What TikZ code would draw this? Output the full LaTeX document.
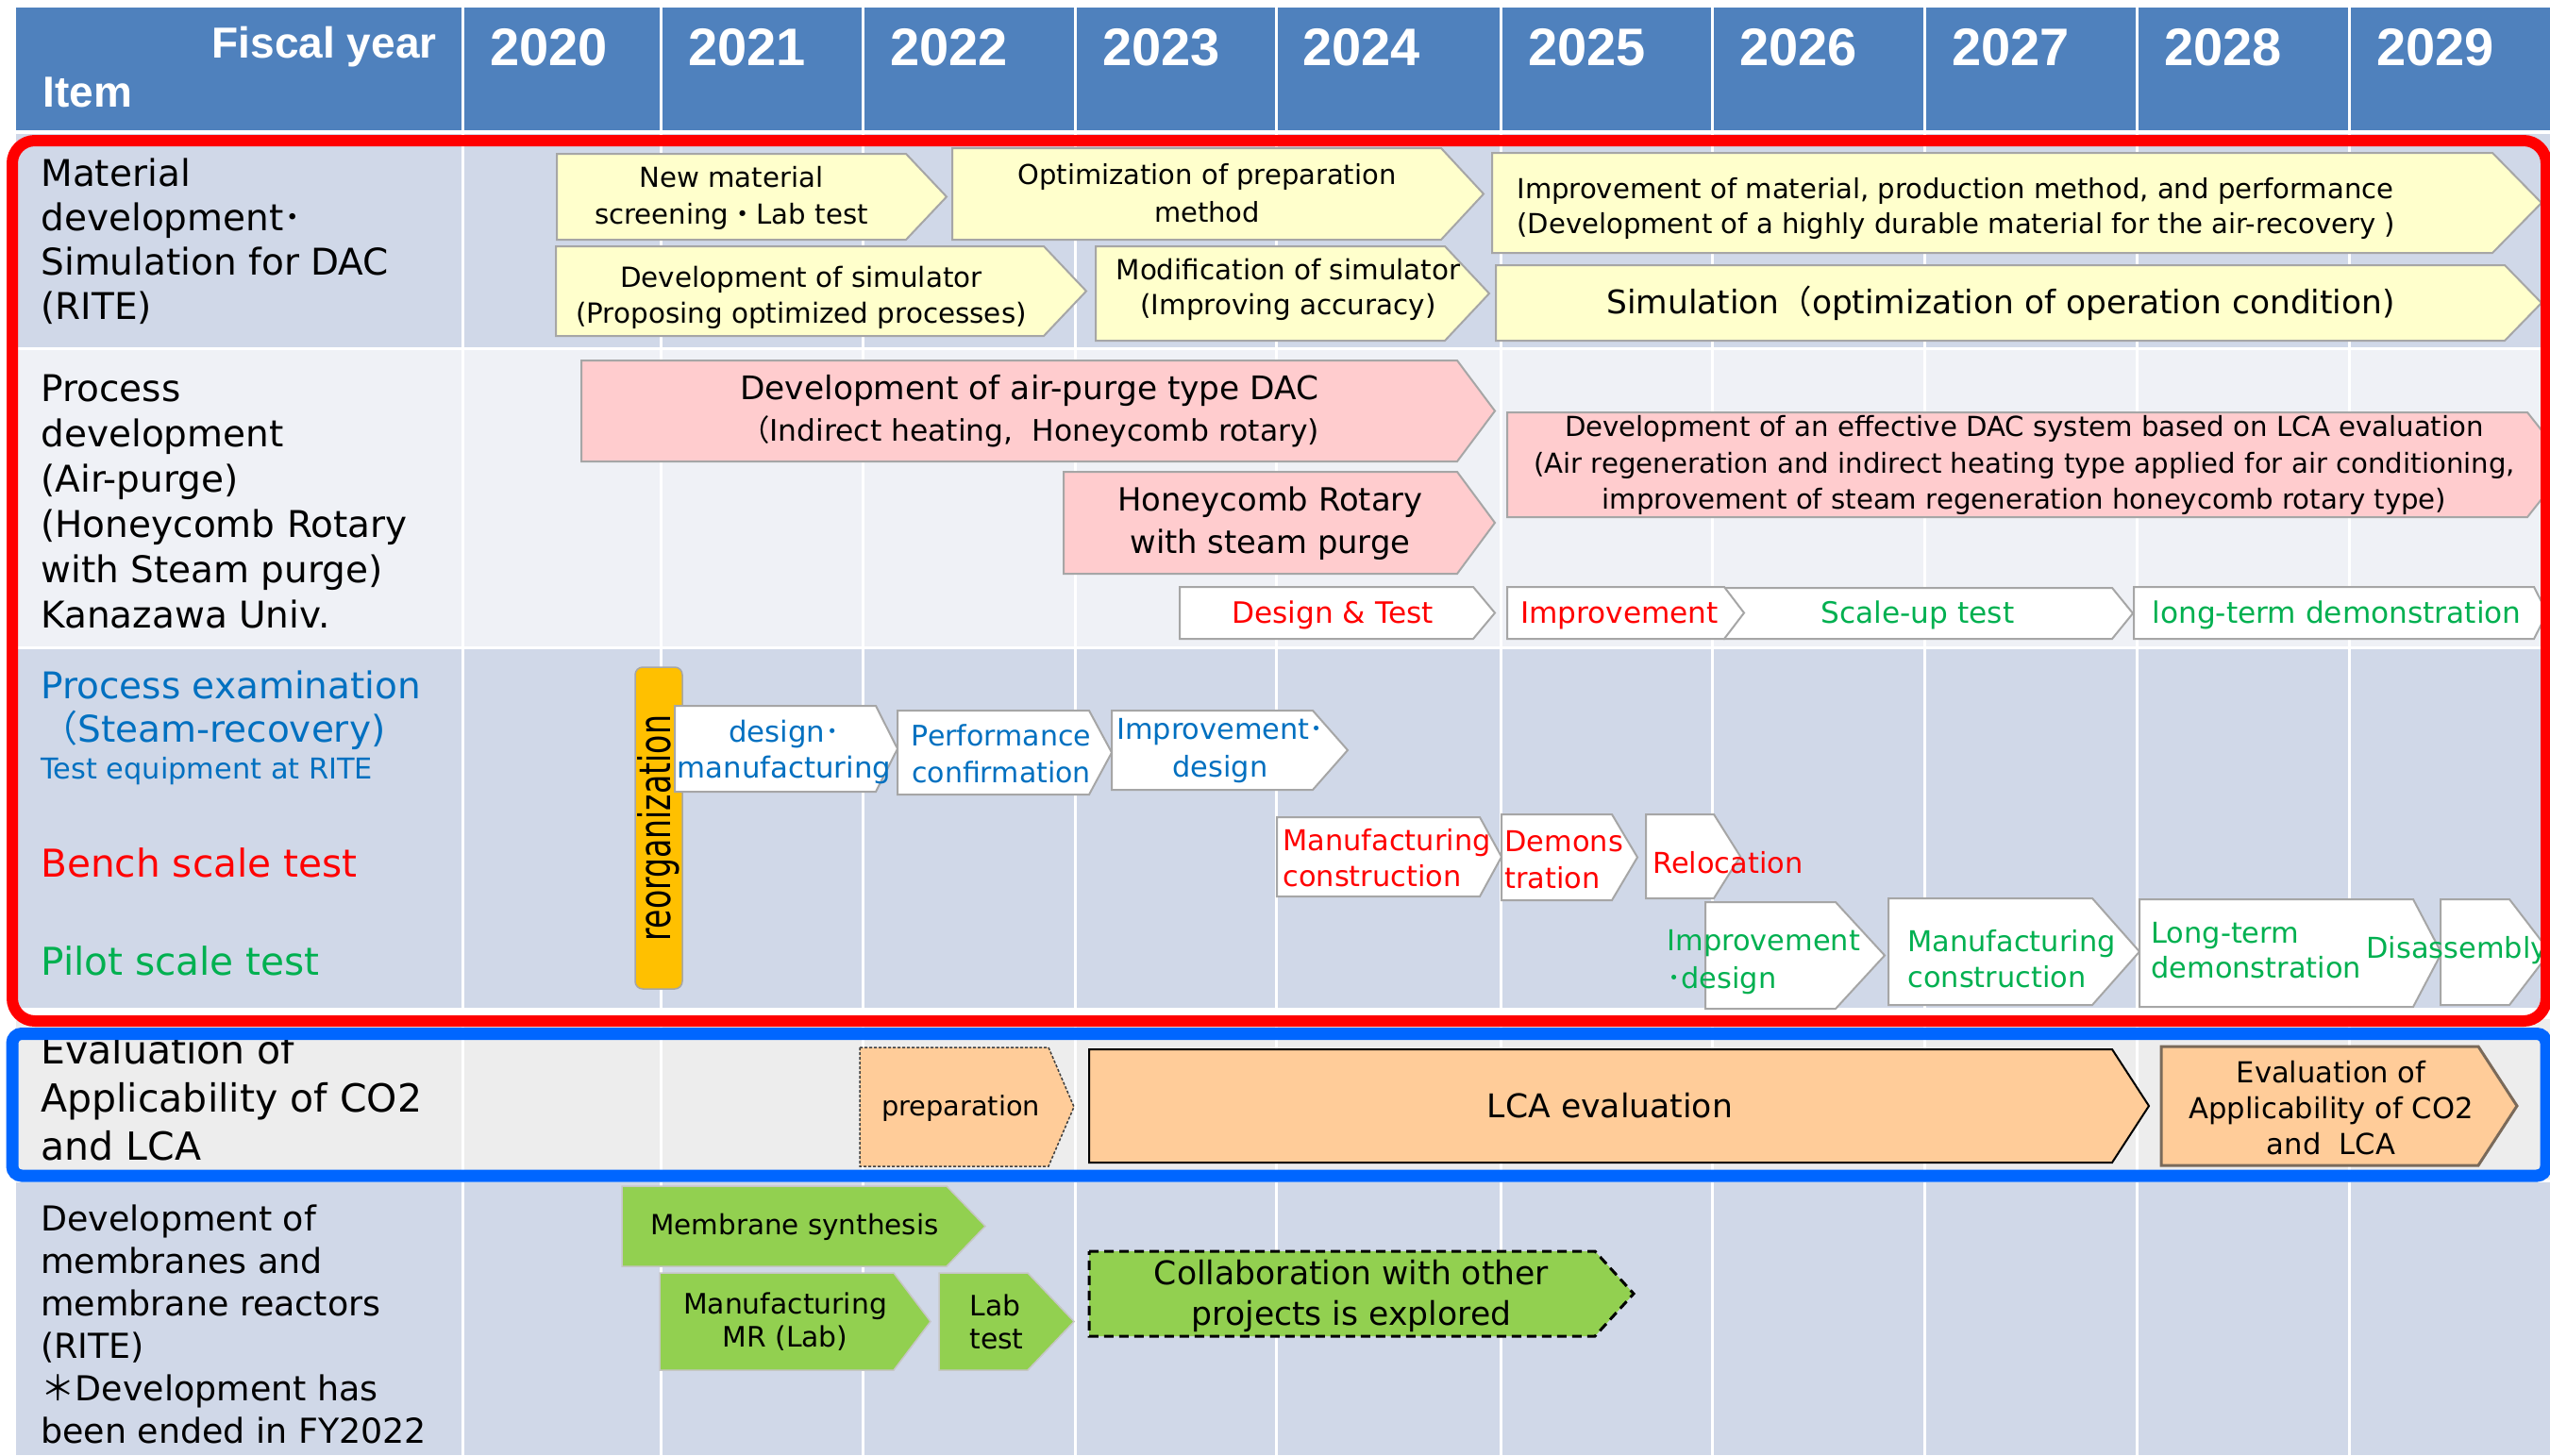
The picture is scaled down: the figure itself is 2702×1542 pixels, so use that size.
\documentclass[tikz,border=0pt]{standalone}
\usepackage{fontspec}
\setmainfont{DejaVu Sans}
\newfontfamily\hdrfont{Liberation Sans}
\newfontfamily\cjkfont{Noto Sans CJK JP}
\newcommand\JDotF{{\cjkfont ・}}
\newcommand\JDot{{\cjkfont ･}}
\newcommand\JLP{{\cjkfont （}}
\newcommand\JAst{{\cjkfont ＊}}
\newcommand\setfs[2]{\fontsize{#1}{#2}\selectfont}
\definecolor{hdrblue}{HTML}{4F81BD}
\definecolor{rowA}{HTML}{D0D8E8}
\definecolor{rowB}{HTML}{EFF1F6}
\definecolor{rowC}{HTML}{EDEDED}
\definecolor{yel}{HTML}{FFFFCC}
\definecolor{pnk}{HTML}{FFCCCE}
\definecolor{pch}{HTML}{FFCC99}
\definecolor{grn}{HTML}{92D050}
\definecolor{org}{HTML}{FFC000}
\definecolor{tblue}{HTML}{0070C0}
\definecolor{tred}{HTML}{FF0000}
\definecolor{tgreen}{HTML}{00B050}
\definecolor{frblue}{HTML}{0066FF}
\definecolor{bgray}{HTML}{A6A6A6}
\definecolor{evalbrd}{HTML}{7A6A5A}
\newcommand\chevshape[6]{\draw[#1] (#2,#3) -- (#4,#3) -- (#5,{(#3+#6)/2}) -- (#4,#6) -- (#2,#6) -- cycle;}
\tikzset{
 yelbox/.style={fill=yel, draw=bgray, line width=1pt},
 pnkbox/.style={fill=pnk, draw=bgray, line width=1pt},
 whbox/.style={fill=white, draw=bgray, line width=1pt},
 grnbox/.style={fill=grn, draw=gray!45, line width=0.75pt},
 prepbox/.style={fill=pch, draw=black!75, line width=0.75pt, dash pattern=on 1.5pt off 1pt},
 lcabox/.style={fill=pch, draw=black, line width=1pt},
 evalbox/.style={fill=pch, draw=evalbrd, line width=1.5pt},
 collabbox/.style={fill=grn, draw=black, line width=1.5pt, dash pattern=on 5pt off 3pt},
 tx/.style={inner sep=0pt, align=center},
 lt/.style={inner sep=0pt, align=left, anchor=west},
 lbl/.style={lt, font=\setfs{19.5}{23.5}},
 reorgbar/.style={fill=org, draw=bgray, line width=0.75pt, rounded corners=4pt, minimum width=170.5pt, minimum height=25pt, inner sep=0pt},
 yr/.style={inner sep=0pt, anchor=west, text=white, font=\hdrfont\bfseries\setfs{28}{28}},
}
\begin{document}
\begin{tikzpicture}[x=0.5pt, y=-0.5pt]
\useasboundingbox (0,0) rectangle (2702,1542);
% header
\fill[hdrblue] (17,8) rectangle (2702,138);
% rows
\fill[rowA] (17,142) rectangle (2702,368);
\fill[rowB] (17,371) rectangle (2702,685);
\fill[rowA] (17,688) rectangle (2702,1068);
\fill[rowC] (17,1080) rectangle (2702,1250);
\fill[rowA] (17,1253) rectangle (2702,1542);
% grid lines
\foreach \gx in {490,700,914,1139,1352,1590,1814,2039,2264,2489}
  \draw[white, line width=1.5pt] (\gx,8) -- (\gx,1542);
% header text
\node[inner sep=0pt, anchor=east, text=white, font=\hdrfont\bfseries\setfs{23}{23}] (fy) at (463,50) {Fiscal year};
\node[inner sep=0pt, anchor=west, text=white, font=\hdrfont\bfseries\setfs{23}{23}] (item) at (45,98) {Item};
\node[yr] (y2020) at (519,50) {2020};
\node[yr] (y2021) at (729,50) {2021};
\node[yr] (y2022) at (943,50) {2022};
\node[yr] (y2023) at (1168,50) {2023};
\node[yr] (y2024) at (1380,50) {2024};
\node[yr] (y2025) at (1619,50) {2025};
\node[yr] (y2026) at (1843,50) {2026};
\node[yr] (y2027) at (2068,50) {2027};
\node[yr] (y2028) at (2293,50) {2028};
\node[yr] (y2029) at (2518,50) {2029};
% left column labels
\node[lbl] (matdev) at (43,256) {Material\\development\JDot\\Simulation for DAC\\(RITE)};
\node[lbl, font=\setfs{19.5}{24}] (procdev) at (43,532) {Process\\development\\(Air-purge)\\(Honeycomb Rotary\\with Steam purge)\\Kanazawa Univ.};
\node[lbl, text=tblue] (pe1) at (43,726) {Process examination};
\node[lbl, text=tblue] (pe2) at (43,774) {\JLP Steam-recovery)};
\node[lt, text=tblue, font=\setfs{15.2}{18}] (pe3) at (43,817) {Test equipment at RITE};
\node[lt, text=tred, font=\setfs{20.3}{24}] (bench) at (43,914) {Bench scale test};
\node[lt, text=tgreen, font=\setfs{20.3}{24}] (pilot) at (43,1018) {Pilot scale test};
\node[lt, font=\setfs{20.5}{25.5}] (evallbl) at (43,1163) {Evaluation of\\Applicability of CO2\\and LCA};
\node[lt, font=\setfs{18.2}{22.5}] (memlbl) at (43,1403) {Development of\\membranes and\\membrane reactors\\(RITE)\\\JAst Development has\\been ended in FY2022};
% row 1
\chevshape{yelbox}{590}{163}{960}{1003}{254}
\node[tx, font=\setfs{14.6}{19.5}] (newmat) at (775,210) {New material\\screening\JDotF Lab test};
\chevshape{yelbox}{1009}{157}{1527}{1572}{254}
\node[tx, font=\setfs{14.5}{20}] (optprep) at (1279,205) {Optimization of preparation\\method};
\chevshape{yelbox}{1581}{162}{2641}{2693}{268}
\node[lt, font=\setfs{14.55}{18.3}] (impmat) at (1607,221) {Improvement of material, production method, and performance\\(Development of a highly durable material for the air-recovery )};
\chevshape{yelbox}{589}{261}{1106}{1151}{356}
\node[tx, font=\setfs{14.7}{19}] (devsim) at (849,315) {Development of simulator\\(Proposing optimized processes)};
\chevshape{yelbox}{1161}{261}{1531}{1578}{361}
\node[tx, font=\setfs{14.7}{18.5}] (modsim) at (1365,307) {Modification of simulator\\(Improving accuracy)};
\chevshape{yelbox}{1585}{281}{2654}{2693}{361}
\node[tx, font=\setfs{17.2}{20}] (simopt) at (2120,321) {Simulation\JLP optimization of operation condition)};
% row 2
\chevshape{pnkbox}{616}{382}{1544}{1584}{489}
\node[tx, font=\setfs{15.7}{22}] (airpurge) at (1091,436) {\setfs{17.2}{22}Development of air-purge type DAC\\\setfs{15.7}{22}\JLP Indirect heating,\ \ Honeycomb rotary)};
\chevshape{pnkbox}{1127}{500}{1544}{1584}{608}
\node[tx, font=\setfs{16.9}{22.5}] (hcsteam) at (1346,555) {Honeycomb Rotary\\with steam purge};
\chevshape{pnkbox}{1597}{437}{2678}{2722}{548}
\node[tx, font=\setfs{14.6}{19.25}] (lcadac) at (2145,493) {Development of an effective DAC system based on LCA evaluation\\(Air regeneration and indirect heating type applied for air conditioning,\\improvement of steam regeneration honeycomb rotary type)};
\chevshape{whbox}{1250}{622}{1561}{1584}{677}
\node[tx, text=tred, font=\setfs{15.6}{18}] (destest) at (1412,652) {Design \& Test};
\chevshape{whbox}{1827}{623}{2238}{2260}{677}
\chevshape{whbox}{1597}{622}{1827}{1848}{677}
\node[tx, text=tred, font=\setfs{15.6}{18}] (impr2) at (1716,652) {Improvement};
\node[tx, text=tgreen, font=\setfs{15.6}{18}] (scaleup) at (2032,652) {Scale-up test};
\chevshape{whbox}{2261}{622}{2685}{2699}{677}
\node[tx, text=tgreen, font=\setfs{15.6}{18}] (longterm) at (2476,652) {long-term demonstration};
% row 3
\node[reorgbar, rotate=90] (reorg) at (698,877.5) {\scalebox{0.72}[1]{\setfs{23}{23}reorganization}};
\chevshape{whbox}{715}{748}{928}{951}{839}
\node[tx, text=tblue, font=\setfs{15.4}{19}] (desman) at (831,797) {design\JDot\\manufacturing};
\chevshape{whbox}{951}{753}{1154}{1178}{842}
\node[tx, text=tblue, font=\setfs{15}{19.5}] (perfconf) at (1061,799) {Performance\\confirmation};
\chevshape{whbox}{1178}{753}{1391}{1428}{837}
\node[tx, text=tblue, font=\setfs{15.2}{20}] (impdes) at (1293,796) {Improvement\JDot\\design};
\chevshape{whbox}{1353}{866}{1568}{1591}{950}
\node[lt, text=tred, font=\setfs{15.2}{19}] (mfgred) at (1359,909) {Manufacturing\\construction};
\chevshape{whbox}{1591}{863}{1708}{1735}{954}
\node[lt, text=tred, font=\setfs{15.2}{19.5}] (demons) at (1594,911) {Demons\\tration};
\chevshape{whbox}{1744}{863}{1816}{1844}{952}
\node[lt, text=tred, font=\setfs{15.2}{19}] (reloc) at (1751,914) {Relocation};
\chevshape{whbox}{1807}{956}{1945}{1997}{1069}
\node[lt, text=tgreen, font=\setfs{15.2}{20}] (impdes2) at (1766,1020) {Improvement\\\JDot design};
\chevshape{whbox}{2001}{952}{2217}{2267}{1065}
\node[lt, text=tgreen, font=\setfs{15.2}{19}] (mfggrn) at (2021,1016) {Manufacturing\\construction};
\chevshape{whbox}{2267}{953}{2557}{2587}{1067}
\node[lt, text=tgreen, font=\setfs{15.2}{18.5}] (ltdemo) at (2279,1007) {Long-term\\demonstration};
\chevshape{whbox}{2586}{953}{2659}{2702}{1065}
\node[lt, text=tgreen, font=\setfs{15.2}{19}] (disasm) at (2507,1007) {Disassembly};
% row 4
\chevshape{prepbox}{911}{1110}{1111}{1138}{1236}
\node[tx, font=\setfs{14.4}{18}] (prep) at (1018,1175) {preparation};
\chevshape{lcabox}{1154}{1112}{2238}{2277}{1232}
\node[tx, font=\setfs{17.3}{20}] (lcaeval) at (1706,1172) {LCA evaluation};
\chevshape{evalbox}{2290}{1109}{2626}{2667}{1235}
\node[tx, font=\setfs{15.3}{19}] (evalapp) at (2470,1174) {Evaluation of\\Applicability of CO2\\and\ \ LCA};
% row 5
\chevshape{grnbox}{659}{1257}{1003}{1044}{1342}
\node[tx, font=\setfs{14.7}{18}] (memsyn) at (842,1300) {Membrane synthesis};
\chevshape{grnbox}{699}{1349}{947}{986}{1452}
\node[tx, font=\setfs{14.9}{17.5}] (mfgmr) at (832,1401) {Manufacturing\\MR (Lab)};
\chevshape{grnbox}{995}{1349}{1089}{1138}{1452}
\node[lt, font=\setfs{14.9}{17.5}] (labtest) at (1027,1401) {Lab\\test};
\chevshape{collabbox}{1154}{1326}{1690}{1731}{1416}
\node[tx, font=\setfs{17.3}{21.5}] (collab) at (1432,1373) {Collaboration with other\\projects is explored};
% frames
\draw[tred, line width=6pt, rounded corners=12pt] (13,149) rectangle (2698,1082);
\draw[frblue, line width=6.5pt, rounded corners=5pt] (13,1095.5) rectangle (2698,1246);
\end{tikzpicture}
\end{document}
